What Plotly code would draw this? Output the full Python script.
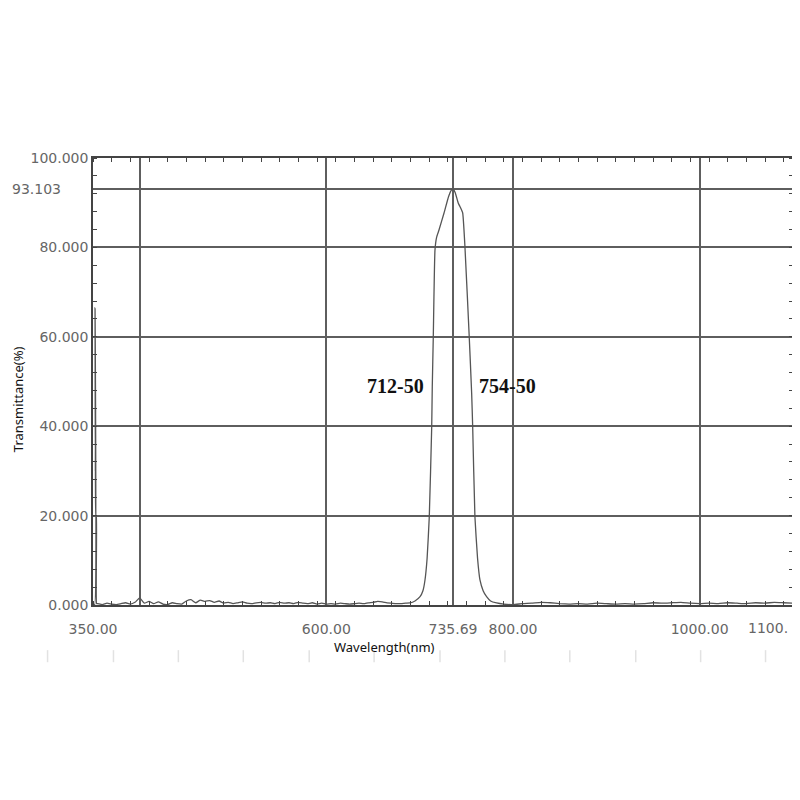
import plotly.graph_objects as go

# ---- data ----
spike_x = [350.0, 351.8, 352.2, 352.5, 352.8, 353.1, 353.6, 353.9]
spike_y = [0.3, 0.0, 66.5, 30.0, 44.0, 20.0, 20.0, 0.3]

base_left_x = list(range(355, 690, 5))
base_left_y = [0.3, 0.1, 0.4, 0.2, 0.1, 0.3, 0.5, 0.2, 0.6, 1.6,
               0.4, 0.8, 0.3, 0.7, 0.2, 0.1, 0.5, 0.3, 0.2, 0.9,
               1.2, 0.5, 1.1, 0.8, 1.0, 0.6, 0.9, 0.4, 0.6, 0.3,
               0.5, 0.7, 0.4, 0.3, 0.5, 0.6, 0.4, 0.5, 0.3, 0.6,
               0.4, 0.5, 0.3, 0.6, 0.4, 0.3, 0.5, 0.2, 0.4, 0.2,
               0.3, 0.2, 0.4, 0.3, 0.2, 0.3, 0.4, 0.3, 0.5, 0.6,
               0.8, 0.7, 0.5, 0.4, 0.3, 0.3, 0.4]

peak_x = [689.7, 695.0, 700.4, 703.5, 705.7, 708.0, 710.3, 712.9, 713.5, 714.6,
          716.4, 718.2, 720.7, 726.1, 731.0, 734.0, 735.69, 738.0, 741.4, 743.5,
          746.1, 748.5, 753.1, 755.7, 756.8, 759.2, 762.0, 764.6, 768.0, 771.7,
          776.0, 782.4]
peak_y = [0.45, 0.9, 1.86, 3.2, 5.6, 10.5, 19.75, 39.9, 48.8, 60.0,
          79.4, 82.3, 83.9, 87.7, 91.4, 92.8, 93.103, 92.3, 89.9, 89.0,
          87.7, 80.2, 60.0, 47.4, 39.9, 19.75, 10.5, 5.6, 3.2, 1.86,
          0.9, 0.45]

base_right_x = list(range(790, 1101, 10))
base_right_y = [0.2, 0.1, 0.3, 0.4, 0.6, 0.5, 0.3, 0.2, 0.3, 0.2,
                0.4, 0.3, 0.2, 0.3, 0.2, 0.3, 0.5, 0.4, 0.5, 0.6,
                0.4, 0.3, 0.4, 0.3, 0.5, 0.4, 0.3, 0.5, 0.4, 0.6,
                0.5, 0.4]

x_grid_vals = [350, 400, 600, 735.69, 800, 1000, 1100]
x_tick_text = ["350.00", "", "600.00", "735.69", "800.00", "1000.00", ""]
y_grid_vals = [0, 20, 40, 60, 80, 93.103, 100]
y_tick_text = ["0.000", "20.000", "40.000", "60.000", "80.000", "", "100.000"]

peak_label_left = "712-50"
peak_label_right = "754-50"

# ---- figure ----
xs = spike_x + base_left_x + peak_x + base_right_x
ys = spike_y + base_left_y + peak_y + base_right_y

fig = go.Figure()
fig.add_trace(go.Scatter(x=xs, y=ys, mode="lines",
                         line=dict(color="#555555", width=1.3, shape="spline", smoothing=0.4),
                         showlegend=False, hoverinfo="skip"))

grid_col = "#5e5e5e"
tick_font = dict(family="DejaVu Sans", size=14, color="#666666")

fig.update_xaxes(range=[350, 1100], tickmode="array", tickvals=x_grid_vals,
                 ticktext=x_tick_text, showgrid=True, gridcolor=grid_col,
                 gridwidth=1.5, showline=True, linecolor="#444444", linewidth=1.5,
                 mirror="ticks", ticks="", tickfont=tick_font, zeroline=False,
                 ticklabelstandoff=10,
                 minor=dict(tickmode="linear", tick0=350, dtick=20, ticks="inside",
                            ticklen=4, tickcolor="#444444", showgrid=False))
fig.update_yaxes(range=[0, 100], tickmode="array", tickvals=y_grid_vals,
                 ticktext=y_tick_text, showgrid=True, gridcolor=grid_col,
                 gridwidth=1.5, showline=True, linecolor="#444444", linewidth=1.5,
                 mirror="ticks", ticks="", tickfont=tick_font, zeroline=False,
                 minor=dict(tickmode="linear", tick0=0, dtick=4, ticks="inside",
                            ticklen=4, tickcolor="#444444", showgrid=False))

annotations = [
    dict(text="93.103", xref="paper", yref="y", x=-0.043, y=93.103,
         xanchor="right", yanchor="middle", showarrow=False, font=tick_font),
    dict(text="1100.", xref="paper", yref="paper", x=0.995, y=-0.051,
         xanchor="right", yanchor="middle", showarrow=False, font=tick_font),
    dict(text="Wavelength(nm)", xref="paper", yref="paper", x=0.417, y=-0.095,
         xanchor="center", yanchor="middle", showarrow=False,
         font=dict(family="Noto Sans", size=13, color="#111111")),
    dict(text="Transmittance(%)", xref="paper", yref="paper", x=-0.106, y=0.46,
         xanchor="center", yanchor="middle", textangle=-90, showarrow=False,
         font=dict(family="Noto Sans", size=13, color="#111111")),
    dict(text="<b>" + peak_label_left + "</b>", xref="x", yref="y", x=673.6, y=49,
         xanchor="center", yanchor="middle", showarrow=False,
         font=dict(family="Liberation Serif", size=20, color="#111111")),
    dict(text="<b>" + peak_label_right + "</b>", xref="x", yref="y", x=794.5, y=49,
         xanchor="center", yanchor="middle", showarrow=False,
         font=dict(family="Liberation Serif", size=20, color="#111111")),
]

# faint ruler marks below the chart (decorative)
shapes = []
for px in [47, 113, 178, 243, 309, 374, 440, 505, 570, 636, 701, 766]:
    xp = (px - 92.5) / 701.0
    shapes.append(dict(type="line", xref="paper", yref="paper", x0=xp, x1=xp,
                       y0=-0.101, y1=-0.128, line=dict(color="#e2e2e2", width=1.5)))

fig.update_layout(width=792, height=792,
                  margin=dict(l=84.5, r=6.5, t=150, b=195),
                  plot_bgcolor="white", paper_bgcolor="white",
                  annotations=annotations, shapes=shapes)

fig.write_html("out.html")
